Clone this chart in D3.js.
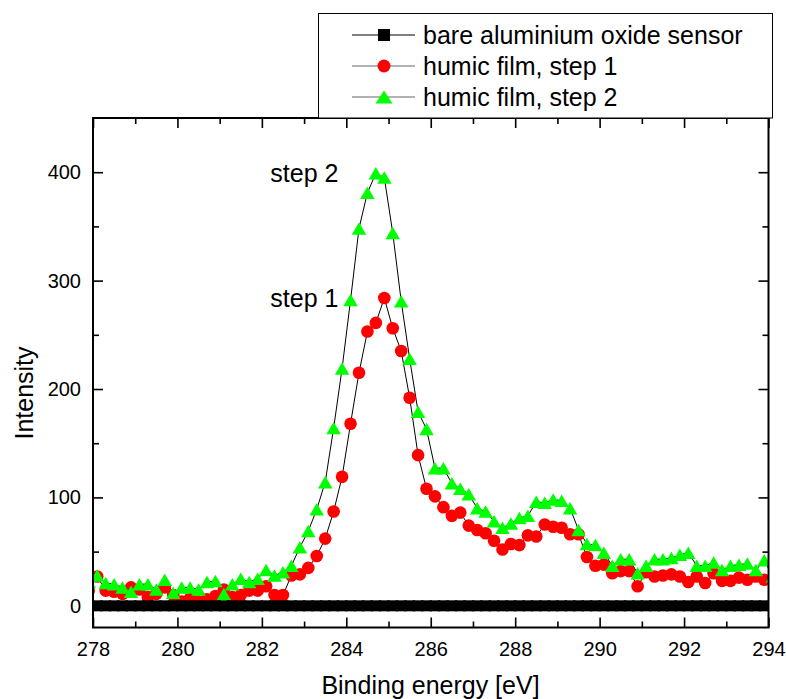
<!DOCTYPE html>
<html>
<head>
<meta charset="utf-8">
<script src="https://cdn.jsdelivr.net/npm/d3@7"></script>
<style>
  html, body { margin: 0; padding: 0; background: #fff; }
  svg text { font-family: "Liberation Sans", Arial, sans-serif; fill: #000; }
</style>
</head>
<body>
<svg id="chart" width="786" height="699"></svg>
<script>
// ---- data ----
const energies = [277.9, 278.1, 278.3, 278.5, 278.7, 278.9, 279.1, 279.3, 279.5, 279.7, 279.9,
  280.1, 280.3, 280.5, 280.7, 280.9, 281.1, 281.3, 281.5, 281.7, 281.9,
  282.1, 282.3, 282.5, 282.7, 282.9, 283.1, 283.3, 283.5, 283.7, 283.9,
  284.1, 284.3, 284.5, 284.7, 284.9, 285.1, 285.3, 285.5, 285.7, 285.9,
  286.1, 286.3, 286.5, 286.7, 286.9, 287.1, 287.3, 287.5, 287.7, 287.9,
  288.1, 288.3, 288.5, 288.7, 288.9, 289.1, 289.3, 289.5, 289.7, 289.9,
  290.1, 290.3, 290.5, 290.7, 290.9, 291.1, 291.3, 291.5, 291.7, 291.9,
  292.1, 292.3, 292.5, 292.7, 292.9, 293.1, 293.3, 293.5, 293.7, 293.9, 294.1];

const bareSensor = [0, 0, 0, 0, 0, 0, 0, 0, 0, 0, 0,
  0, 0, 0, 0, 0, 0, 0, 0, 0, 0,
  0, 0, 0, 0, 0, 0, 0, 0, 0, 0,
  0, 0, 0, 0, 0, 0, 0, 0, 0, 0,
  0, 0, 0, 0, 0, 0, 0, 0, 0, 0,
  0, 0, 0, 0, 0, 0, 0, 0, 0, 0,
  0, 0, 0, 0, 0, 0, 0, 0, 0, 0,
  0, 0, 0, 0, 0, 0, 0, 0, 0, 0, 0];

const humicStep1 = [14, 27, 14, 13, 11, 17, 15, 8, 11, 17, 10,
  4, 7, 4, 6, 9, 15, 8, 10, 14, 14,
  18, 10, 10, 28, 29, 35, 46, 62, 87, 119,
  168, 215, 253, 261, 284, 256, 235, 192, 139, 108,
  101, 91, 83, 86, 74, 70, 67, 60, 52, 57,
  56, 65, 64, 75, 73, 72, 66, 66, 45, 37,
  38, 30, 32, 32, 18, 31, 27, 28, 29, 27,
  22, 27, 21, 30, 23, 23, 26, 24, 27, 24, 23];

const humicStep2 = [22, 28, 21, 20, 17, 13, 20, 20, 15, 24, 12,
  17, 17, 15, 22, 23, 11, 20, 25, 22, 25,
  33, 28, 31, 37, 54, 69, 89, 114, 164, 219,
  282, 348, 381, 399, 395, 344, 281, 228, 179, 163,
  127, 127, 113, 108, 103, 90, 87, 78, 72, 76,
  81, 83, 96, 95, 98, 97, 90, 70, 57, 56,
  49, 37, 43, 43, 30, 37, 43, 43, 44, 47,
  49, 37, 37, 40, 33, 37, 38, 39, 33, 42, 27];

const seriesNames = ["bare aluminium oxide sensor", "humic film, step 1", "humic film, step 2"];
const xTicks = [278, 280, 282, 284, 286, 288, 290, 292, 294];
const xMinorTicks = [279, 281, 283, 285, 287, 289, 291, 293];
const yTicks = [0, 100, 200, 300, 400];
const yMinorTicks = [50, 150, 250, 350];
const annotations = [{text: "step 2", x: 283.1, y: 399}, {text: "step 1", x: 283.1, y: 284}];

// ---- layout ----
const svg = d3.select("#chart");
const L = 93, R = 768.5, T = 118, B = 627.5;
const x = d3.scaleLinear().domain([278, 294]).range([L, R]);
const y = d3.scaleLinear().domain([-20, 450]).range([B, T]);

svg.append("defs").append("clipPath").attr("id", "plotclip")
  .append("rect").attr("x", L).attr("y", T).attr("width", R - L).attr("height", B - T);

const dataG = svg.append("g").attr("clip-path", "url(#plotclip)");

function pts(vals) { return energies.map((e, i) => ({e, v: vals[i]})); }
const line = d3.line().x(d => x(d.e)).y(d => y(d.v));

const s1 = pts(humicStep1), s2 = pts(humicStep2), s0 = pts(bareSensor);

[s1, s2].forEach(s => {
  dataG.append("path").datum(s).attr("d", line)
    .attr("fill", "none").attr("stroke", "#000").attr("stroke-width", 1);
});

dataG.append("g").selectAll("circle").data(s1).join("circle")
  .attr("cx", d => x(d.e)).attr("cy", d => y(d.v)).attr("r", 6.3)
  .attr("fill", "#ff0000");

const tri = (w, h) => `M${-w/2},${h/2}L${w/2},${h/2}L0,${-h/2}Z`;
dataG.append("g").selectAll("path").data(s2).join("path")
  .attr("d", tri(14.5, 12.5))
  .attr("transform", d => `translate(${x(d.e)},${y(d.v)})`)
  .attr("fill", "#00ff00");

dataG.append("path").datum(s0).attr("d", line)
  .attr("fill", "none").attr("stroke", "#000").attr("stroke-width", 1);
dataG.append("g").selectAll("rect").data(s0).join("rect")
  .attr("x", d => x(d.e) - 5.5).attr("y", d => y(d.v) - 5.5)
  .attr("width", 11).attr("height", 11).attr("fill", "#000");

// ---- axes ----
const fontTick = 20;
function styleAxis(g) {
  g.select(".domain").remove();
  g.selectAll("line").attr("stroke", "#000").attr("stroke-width", 1.6);
  g.selectAll("text").style("font-size", fontTick + "px")
    .style("font-family", '"Liberation Sans", Arial, sans-serif');
}
svg.append("g").attr("transform", `translate(0,${B})`)
  .call(d3.axisBottom(x).tickValues(xTicks).tickSize(-10).tickPadding(14).tickFormat(d3.format("d")))
  .call(styleAxis);
svg.append("g").attr("transform", `translate(0,${B})`)
  .call(d3.axisBottom(x).tickValues(xMinorTicks).tickSize(-6).tickFormat(""))
  .call(styleAxis);
svg.append("g").attr("transform", `translate(0,${T})`)
  .call(d3.axisTop(x).tickValues(xTicks).tickSize(-10).tickFormat(""))
  .call(styleAxis);
svg.append("g").attr("transform", `translate(0,${T})`)
  .call(d3.axisTop(x).tickValues(xMinorTicks).tickSize(-6).tickFormat(""))
  .call(styleAxis);
svg.append("g").attr("transform", `translate(${L},0)`)
  .call(d3.axisLeft(y).tickValues(yTicks).tickSize(-10).tickPadding(12).tickFormat(d3.format("d")))
  .call(styleAxis);
svg.append("g").attr("transform", `translate(${L},0)`)
  .call(d3.axisLeft(y).tickValues(yMinorTicks).tickSize(-6).tickFormat(""))
  .call(styleAxis);
svg.append("g").attr("transform", `translate(${R},0)`)
  .call(d3.axisRight(y).tickValues(yTicks).tickSize(-10).tickFormat(""))
  .call(styleAxis);
svg.append("g").attr("transform", `translate(${R},0)`)
  .call(d3.axisRight(y).tickValues(yMinorTicks).tickSize(-6).tickFormat(""))
  .call(styleAxis);

svg.append("rect").attr("x", L).attr("y", T).attr("width", R - L).attr("height", B - T)
  .attr("fill", "none").attr("stroke", "#000").attr("stroke-width", 2);

// axis titles
svg.append("text").attr("x", 430.5).attr("y", 694)
  .attr("text-anchor", "middle").style("font-size", "25px").text("Binding energy [eV]");
svg.append("text").attr("transform", "translate(33,393) rotate(-90)")
  .attr("text-anchor", "middle").style("font-size", "25px").text("Intensity");

// annotations
annotations.forEach(a => {
  svg.append("text").attr("x", x(a.x) - 38).attr("y", y(a.y) + 9)
    .style("font-size", "25px").text(a.text);
});

// ---- legend ----
const lg = svg.append("g");
lg.append("rect").attr("x", 318.5).attr("y", 13.5).attr("width", 454).attr("height", 104.5)
  .attr("fill", "#fff").attr("stroke", "#000").attr("stroke-width", 1);
const rowsY = [35, 66, 97];
const lineCols = ["#000", "#666", "#666"];
seriesNames.forEach((name, i) => {
  const cy = rowsY[i];
  lg.append("line").attr("x1", 352).attr("x2", 415).attr("y1", cy).attr("y2", cy)
    .attr("stroke", lineCols[i]).attr("stroke-width", 1.2);
  if (i === 0) {
    lg.append("rect").attr("x", 384 - 6).attr("y", cy - 6).attr("width", 12).attr("height", 12).attr("fill", "#000");
  } else if (i === 1) {
    lg.append("circle").attr("cx", 384).attr("cy", cy).attr("r", 6.5).attr("fill", "#ff0000");
  } else {
    lg.append("path").attr("d", tri(17, 13)).attr("transform", `translate(384,${cy})`).attr("fill", "#00ff00");
  }
  lg.append("text").attr("x", 423).attr("y", cy + 8.5).style("font-size", "25px").text(name);
});
</script>
</body>
</html>
